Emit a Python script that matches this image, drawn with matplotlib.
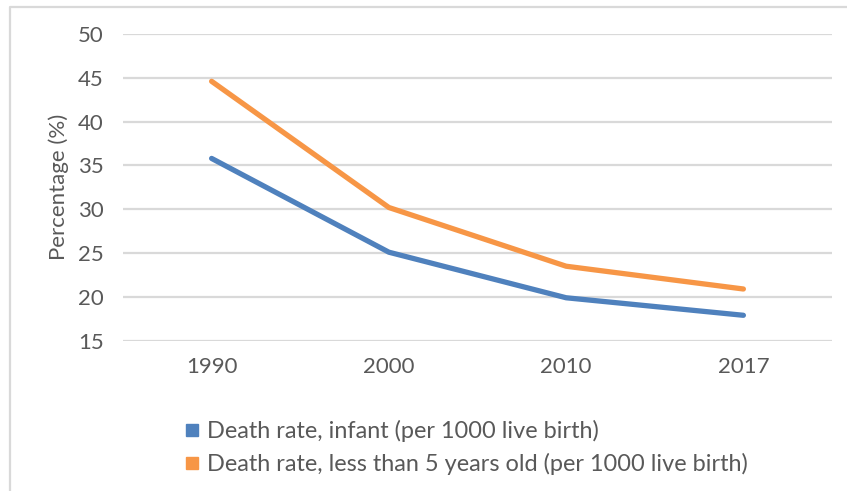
import matplotlib.pyplot as plt
from matplotlib.lines import Line2D

years = ["1990", "2000", "2010", "2017"]
infant = [35.8, 25.1, 19.9, 17.9]
under_five = [44.6, 30.2, 23.5, 20.9]
series_names = [
    "Death rate, infant (per 1000 live birth)",
    "Death rate, less than 5 years old (per 1000 live birth)",
]
y_ticks = [15, 20, 25, 30, 35, 40, 45, 50]

blue = "#4f81bd"
orange = "#f79646"
grid_c = "#d9d9d9"
text_c = "#595959"

plt.rcParams["font.family"] = ["Lato", "DejaVu Sans"]

fig = plt.figure(figsize=(8.47, 4.91), dpi=100)
ax = fig.add_axes([0.1452, 0.3061, 0.8371, 0.6247])

x = range(len(years))
ax.plot(x, infant, color=blue, lw=3.8, solid_capstyle="round", solid_joinstyle="round")
ax.plot(x, under_five, color=orange, lw=3.8, solid_capstyle="round", solid_joinstyle="round")

ax.set_xlim(-0.5, len(years) - 0.5)
ax.set_ylim(15, 50)
ax.set_yticks(y_ticks)
ax.set_xticks(list(x))
ax.set_xticklabels(years)
ax.yaxis.grid(True, color=grid_c, lw=1.6)
ax.set_axisbelow(True)
for s in ax.spines.values():
    s.set_visible(False)
ax.tick_params(length=0, labelsize=16, colors=text_c)
ax.tick_params(axis="y", pad=14)
ax.tick_params(axis="x", pad=12)
ax.set_ylabel("Percentage (%)", fontsize=16, color=text_c, labelpad=6)

handles = [
    Line2D([], [], ls="none", marker="s", ms=8.5, color=blue),
    Line2D([], [], ls="none", marker="s", ms=8.5, color=orange),
]
fig.legend(handles, series_names, loc="upper left",
           bbox_to_anchor=(184 / 847, 1 - 420 / 491), frameon=False,
           fontsize=16.9, labelcolor=text_c, handlelength=0.7,
           handletextpad=0.3, labelspacing=0.45, borderpad=0, borderaxespad=0)

# light frame along the top and left edges
fig.add_artist(Line2D([10 / 847, 10 / 847, 1], [0, 1 - 7 / 491, 1 - 7 / 491],
                      transform=fig.transFigure, color=grid_c, lw=1.6))

fig.savefig("out.png", dpi=100)
